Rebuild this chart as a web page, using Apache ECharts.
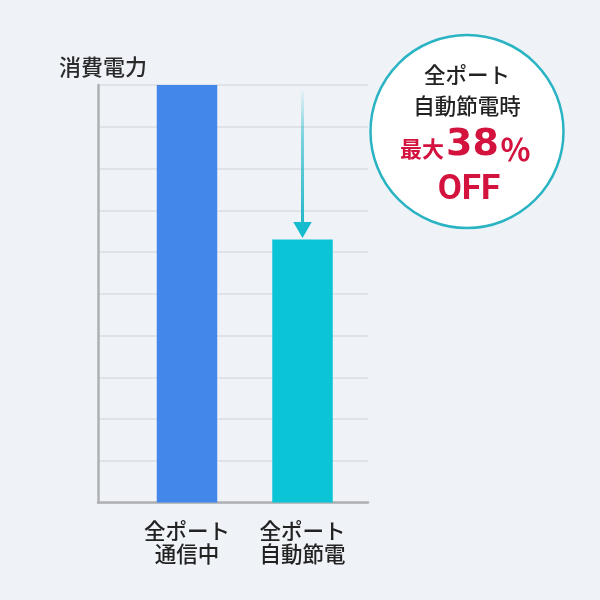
<!DOCTYPE html>
<html><head><meta charset="utf-8">
<script src="https://cdn.jsdelivr.net/npm/echarts@6/dist/echarts.min.js"></script>
<style>html,body{margin:0;padding:0;background:#eff3f8;}#c{width:600px;height:600px;}</style>
</head><body><div id="c"></div>
<script>
const categories = ['全ポート\n通信中', '全ポート\n自動節電'];
const powerValues = [10, 6.3];
const arrowFrom = 9.9;
const yMax = 10;
const yInterval = 1;
const barColors = ['#4287e9', '#0bc5d6'];

const chart = echarts.init(document.getElementById('c'));
const FONT = '"Noto Sans CJK JP", "Noto Sans", sans-serif';
const NUMFONT = '"Roboto", "Noto Sans", sans-serif';
const WIDEFONT = '"DejaVu Sans", "Roboto", sans-serif';
const RED = '#d3123e';
chart.setOption({
  backgroundColor: '#eff3f8',
  animation: false,
  title: {
    text: '消費電力', left: 54, top: 51,
    textStyle: { fontFamily: FONT, fontSize: 22, fontWeight: 500, color: '#2a2a2a' }
  },
  grid: [
    { left: 98, right: 232, top: 85, bottom: 97.5 },
    { left: 129.25, width: 231, top: 85, bottom: 97.5 }
  ],
  xAxis: [
    { gridIndex: 0, type: 'value', min: 0, max: 1, axisLabel: { show: false }, axisTick: { show: false }, splitLine: { show: false },
      axisLine: { show: true, lineStyle: { color: '#aeb0b3', width: 2.5 } } },
    { gridIndex: 1, type: 'category', data: categories, axisLine: { show: false }, axisTick: { show: false },
      axisLabel: { margin: 17, fontFamily: FONT, fontSize: 21.5, fontWeight: 500, lineHeight: 23, color: '#222' } }
  ],
  yAxis: [
    { gridIndex: 0, type: 'value', min: 0, max: yMax, interval: yInterval, axisLabel: { show: false }, axisTick: { show: false },
      axisLine: { show: true, lineStyle: { color: '#aeb0b3', width: 2.5 } },
      splitLine: { show: true, lineStyle: { color: '#dfe3e8', width: 2 } } },
    { gridIndex: 1, type: 'value', min: 0, max: yMax, interval: yInterval, show: false }
  ],
  series: [{
    type: 'bar', xAxisIndex: 1, yAxisIndex: 1, barWidth: 60.5,
    data: powerValues.map((v, i) => ({ value: v, itemStyle: { color: barColors[i] } })),
    markLine: {
      silent: true, symbol: ['none', 'none'],
      label: { show: false },
      lineStyle: {
        type: 'solid', width: 3,
        color: new echarts.graphic.LinearGradient(0, 0, 0, 1, [
          { offset: 0, color: 'rgba(30,184,200,0)' },
          { offset: 0.35, color: 'rgba(30,184,200,0.55)' },
          { offset: 1, color: 'rgba(30,184,200,1)' }
        ])
      },
      data: [[{ coord: [categories[1], arrowFrom] }, { coord: [categories[1], powerValues[1] + 0.35] }]]
    },
    markPoint: {
      silent: true, symbol: 'triangle', symbolRotate: 180, symbolSize: [18.5, 16],
      symbolOffset: [0, -9.5],
      itemStyle: { color: '#14bccd' },
      label: { show: false },
      data: [{ coord: [categories[1], powerValues[1]] }]
    }
  }],
  graphic: [
    { type: 'circle', shape: { cx: 467, cy: 131.5, r: 96.5 }, style: { fill: '#fff', stroke: '#2ab4c3', lineWidth: 2.5 }, z: 10 },
    { type: 'text', x: 467, y: 75, z: 11, style: { text: '全ポート', fontFamily: FONT, fontSize: 21.5, fontWeight: 500, fill: '#222', align: 'center', verticalAlign: 'middle' } },
    { type: 'text', x: 467, y: 106, z: 11, style: { text: '自動節電時', fontFamily: FONT, fontSize: 21.5, fontWeight: 500, fill: '#222', align: 'center', verticalAlign: 'middle' } },
    { type: 'text', x: 444, y: 149, z: 11, style: { text: '最大', fontFamily: FONT, fontSize: 22, fontWeight: 'bold', fill: RED, align: 'right', verticalAlign: 'middle' } },
    { type: 'text', x: 446, y: 145, z: 11, style: { text: '38', fontFamily: WIDEFONT, fontSize: 38, fontWeight: 'bold', fill: RED, align: 'left', verticalAlign: 'middle' } },
    { type: 'text', x: 500, y: 149, z: 11, style: { text: '％', fontFamily: FONT, fontSize: 31, fontWeight: 'bold', fill: RED, align: 'left', verticalAlign: 'middle' } },
    { type: 'text', x: 469, y: 190, z: 11, style: { text: 'OFF', fontFamily: NUMFONT, fontSize: 35, fontWeight: 'bold', fill: RED, align: 'center', verticalAlign: 'middle' } }
  ]
});
</script></body></html>
